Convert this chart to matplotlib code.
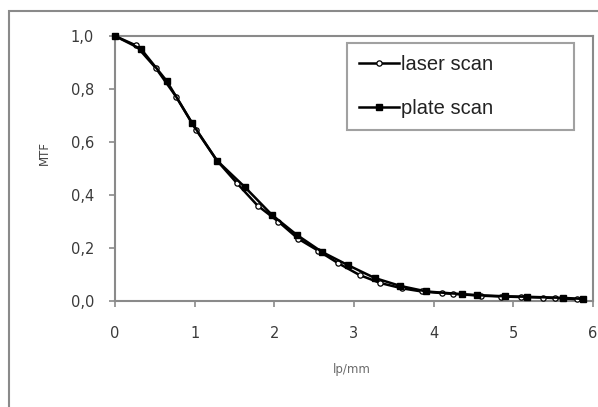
import matplotlib
matplotlib.use('Agg')
import matplotlib.pyplot as plt
from matplotlib.patches import Rectangle
from matplotlib.ticker import FuncFormatter

# laser scan MTF
laser_x = [0, 0.26, 0.51, 0.77, 1.02, 1.28, 1.53, 1.79, 2.05, 2.3, 2.55, 2.8,
           3.07, 3.33, 3.6, 3.85, 4.1, 4.24, 4.6, 4.85, 5.1, 5.37, 5.52, 5.8]
laser_y = [1.0, 0.965, 0.88, 0.77, 0.645, 0.53, 0.445, 0.36, 0.3, 0.235, 0.19, 0.143,
           0.098, 0.068, 0.048, 0.036, 0.03, 0.027, 0.02, 0.017, 0.015, 0.013, 0.011, 0.007]

# plate scan MTF
plate_x = [0, 0.33, 0.65, 0.97, 1.28, 1.63, 1.97, 2.28, 2.6, 2.92, 3.26, 3.58,
           3.91, 4.35, 4.55, 4.89, 5.17, 5.62, 5.87]
plate_y = [1.0, 0.95, 0.83, 0.67, 0.53, 0.43, 0.325, 0.25, 0.185, 0.136, 0.087, 0.057,
           0.036, 0.026, 0.022, 0.018, 0.016, 0.012, 0.008]

grey = '#8a8a8a'
txt = '#3a3a3a'

fig = plt.figure(figsize=(5.98, 4.07), dpi=100)
ax = fig.add_axes([0.1923, 0.2604, 0.7993, 0.6511])

# outer frame of the chart object
fig.patches.append(Rectangle((0.015, -0.1), 1.2, 1.073, transform=fig.transFigure,
                             fill=False, edgecolor=grey, lw=1.5, clip_on=False))

ax.plot(laser_x, laser_y, color='black', lw=1.8, marker='o', ms=3.8,
        mfc='white', mec='black', mew=0.9, label='laser scan', clip_on=False, zorder=3)
ax.plot(plate_x, plate_y, color='black', lw=1.8, marker='s', ms=4.2,
        mfc='black', mec='black', label='plate scan', clip_on=False, zorder=3)

ax.set_xlim(0, 6)
ax.set_ylim(0, 1.0)
ax.set_xticks(range(7))
ax.set_yticks([0, 0.2, 0.4, 0.6, 0.8, 1.0])
ax.yaxis.set_major_formatter(FuncFormatter(lambda v, p: ('%.1f' % v).replace('.', ',')))

for s in ax.spines.values():
    s.set_color(grey)
    s.set_linewidth(1.5)
ax.tick_params(direction='out', length=4, width=1.2, color=grey,
               labelsize=10.5, labelcolor=txt)
ax.tick_params(axis='y', pad=11)
ax.tick_params(axis='x', pad=14)

ax.set_xlabel('lp/mm', fontsize=8.5, color='#6a6a6a')
ax.xaxis.set_label_coords(0.496, -0.26)
ax.xaxis.label.set_va('center')
ax.set_ylabel('MTF', fontsize=8.5, color='#444444')
ax.yaxis.set_label_coords(-0.147, 0.56)
ax.yaxis.label.set_va('center')

leg = ax.legend(loc='upper left', bbox_to_anchor=(347 / 598, 1 - 43 / 407, 227 / 598, 0.0),
                bbox_transform=fig.transFigure, mode='expand',
                prop={'family': 'Liberation Sans', 'size': 14.5},
                numpoints=1, handlelength=2.0, handletextpad=0.1, labelspacing=1.25,
                borderpad=0.6, frameon=True, fancybox=False, borderaxespad=0)
leg.get_frame().set_edgecolor(grey)
leg.get_frame().set_linewidth(1.5)
for t in leg.get_texts():
    t.set_color('#222222')

fig.savefig('out.png', dpi=100)
